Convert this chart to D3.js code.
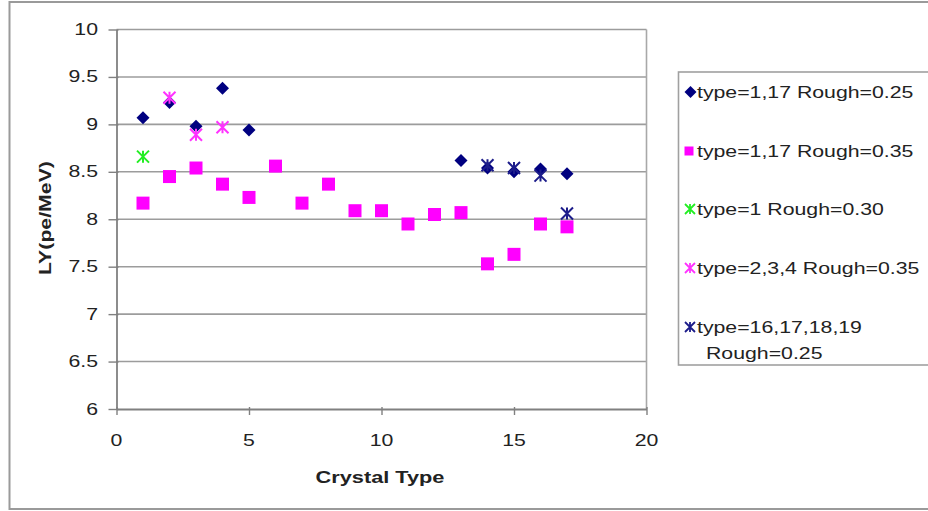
<!DOCTYPE html>
<html>
<head>
<meta charset="utf-8">
<script src="https://cdn.jsdelivr.net/npm/d3@7"></script>
<style>
  html, body { margin: 0; padding: 0; background: #fff; }
  svg { display: block; }
  text { font-family: "Liberation Sans", Arial, sans-serif; fill: #222; }
</style>
</head>
<body>
<svg id="chart" width="928" height="511"></svg>
<script>
// Light yield by crystal type, one array pair per series
const s1x = [1, 2, 3, 4, 5, 13, 14, 15, 16, 17];
const s1y = [9.07, 9.23, 8.98, 9.38, 8.94, 8.62, 8.54, 8.50, 8.53, 8.48];
const s2x = [1, 2, 3, 4, 5, 6, 7, 8, 9, 10, 11, 12, 13, 14, 15, 16, 17];
const s2y = [8.17, 8.45, 8.54, 8.37, 8.23, 8.56, 8.17, 8.37, 8.09, 8.09, 7.95, 8.05, 8.07, 7.53, 7.63, 7.95, 7.92];
const s3x = [1];
const s3y = [8.66];
const s4x = [2, 3, 4];
const s4y = [9.28, 8.89, 8.97];
const s5x = [14, 15, 16, 17];
const s5y = [8.57, 8.54, 8.46, 8.06];

const seriesNames = [
  ["type=1,17 Rough=0.25"],
  ["type=1,17 Rough=0.35"],
  ["type=1 Rough=0.30"],
  ["type=2,3,4 Rough=0.35"],
  ["type=16,17,18,19", "Rough=0.25"]
];
const xTicks = [0, 5, 10, 15, 20];
const yTicks = [6, 6.5, 7, 7.5, 8, 8.5, 9, 9.5, 10];
const xTitle = "Crystal Type";
const yTitle = "LY(pe/MeV)";

const series = [
  { xs: s1x, ys: s1y, shape: "diamond", color: "#000080" },
  { xs: s2x, ys: s2y, shape: "square",  color: "#ff00ff" },
  { xs: s3x, ys: s3y, shape: "star",    color: "#22ee22" },
  { xs: s4x, ys: s4y, shape: "star",    color: "#ff33ff" },
  { xs: s5x, ys: s5y, shape: "star",    color: "#1c1c8a" }
];

const svg = d3.select("#chart");
const STRETCH = 1.33;

const x = d3.scaleLinear().domain([0, 20]).range([116.5, 646.5]);
const y = d3.scaleLinear().domain([6, 10]).range([409, 29.5]);

// outer chart frame
svg.append("rect")
  .attr("x", 9.5).attr("y", 2).attr("width", 940).attr("height", 507)
  .attr("fill", "#fff").attr("stroke", "#9a9a9a").attr("stroke-width", 2);

function label(g, str, tx, ty, anchor, opts = {}) {
  const rot = opts.rotate ? ` rotate(${opts.rotate})` : "";
  return g.append("text")
    .attr("transform", `translate(${tx},${ty})${rot} scale(${opts.stretch || STRETCH},1)`)
    .attr("text-anchor", anchor)
    .attr("dominant-baseline", "central")
    .attr("font-size", opts.size || 16)
    .attr("font-weight", opts.bold ? "bold" : "normal")
    .text(str);
}

// gridlines
const grid = svg.append("g");
grid.selectAll("line").data(yTicks.filter(v => v !== 6)).join("line")
  .attr("x1", x(0)).attr("x2", x(20))
  .attr("y1", d => y(d)).attr("y2", d => y(d))
  .attr("stroke", "#9c9c9c").attr("stroke-width", 1.6);
// right border of the plot area
grid.append("line")
  .attr("x1", x(20)).attr("x2", x(20)).attr("y1", y(10)).attr("y2", y(6))
  .attr("stroke", "#a8a8a8").attr("stroke-width", 1.6);

// axes
const yAxis = d3.axisLeft(y).tickValues(yTicks).tickSize(8).tickSizeOuter(0).tickFormat(() => "");
const xAxis = d3.axisBottom(x).tickValues(xTicks).tickSize(6).tickSizeOuter(0).tickFormat(() => "");
const gy = svg.append("g").attr("transform", `translate(${x(0)},0)`).call(yAxis);
const gx = svg.append("g").attr("transform", `translate(0,${y(6)})`).call(xAxis);
[gy, gx].forEach(g => {
  g.selectAll("path.domain").attr("stroke", "#808080").attr("stroke-width", 1.8);
  g.selectAll(".tick line").attr("stroke", "#808080").attr("stroke-width", 1.4);
});
gy.selectAll(".tick line").attr("x2", -8).attr("x1", 2);
gx.selectAll(".tick line").attr("y1", -2).attr("y2", 6);

const labels = svg.append("g");
yTicks.forEach(v => label(labels, d3.format("")(v), 98, y(v), "end"));
xTicks.forEach(v => label(labels, String(v), x(v), 440, "middle"));
label(labels, xTitle, 380, 478, "middle", { bold: true, stretch: 1.36 });
label(labels, yTitle, 45, 218, "middle", { bold: true, rotate: -90 });

// marker shapes
function shapePath(shape, r) {
  if (shape === "diamond") return `M0,${-r}L${r},0L0,${r}L${-r},0Z`;
  if (shape === "square") return `M${-r},${-r}H${r}V${r}H${-r}Z`;
  return `M${-r},${-r}L${r},${r}M${-r},${r}L${r},${-r}M0,${-r}V${r}`;
}
function drawMarker(g, shape, color, cx, cy) {
  const p = g.append("path").attr("transform", `translate(${cx},${cy})`);
  if (shape === "star") {
    p.attr("d", shapePath(shape, 6)).attr("fill", "none")
      .attr("stroke", color).attr("stroke-width", 2);
  } else {
    p.attr("d", shapePath(shape, 6.5)).attr("fill", color);
  }
}

const marks = svg.append("g");
series.forEach(s => {
  s.xs.forEach((xv, i) => drawMarker(marks, s.shape, s.color, x(xv), y(s.ys[i])));
});

// legend
const legend = svg.append("g");
legend.append("rect")
  .attr("x", 678.5).attr("y", 72).attr("width", 280).attr("height", 293)
  .attr("fill", "#fff").attr("stroke", "#a0a0a0").attr("stroke-width", 1.6);
const rowY = [92, 151, 209, 268, 327];
series.forEach((s, i) => {
  const ly = rowY[i];
  if (s.shape === "square") {
    legend.append("path").attr("transform", `translate(689,${ly})`)
      .attr("d", shapePath("square", 4.5)).attr("fill", s.color);
  } else if (s.shape === "diamond") {
    legend.append("path").attr("transform", `translate(690.5,${ly})`)
      .attr("d", shapePath("diamond", 6)).attr("fill", s.color);
  } else {
    legend.append("path").attr("transform", `translate(690,${ly})`)
      .attr("d", shapePath("star", 5)).attr("fill", "none")
      .attr("stroke", s.color).attr("stroke-width", 1.8);
  }
  seriesNames[i].forEach((line, j) => {
    label(legend, line, j === 0 ? 697 : 706, ly + j * 26, "start");
  });
});
</script>
</body>
</html>
